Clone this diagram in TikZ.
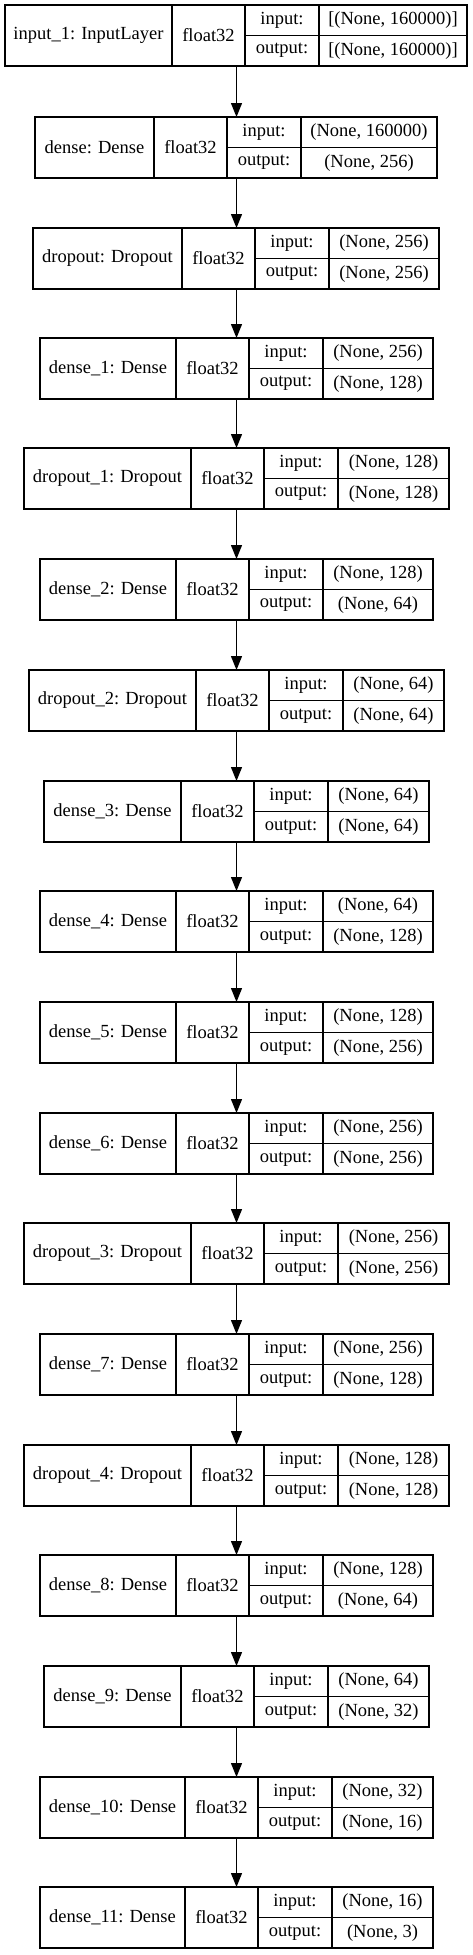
\documentclass[tikz,border=0pt]{standalone}
\usepackage{fontspec}
\setmainfont{Liberation Serif}
\usetikzlibrary{arrows.meta}

% one layer record: name, top, left, first divider, right, label, input, output
\newcommand{\layer}[8]{%
  \node[layerbox, minimum width={(#5-#3)*1pt}] (#1) at (236.5,{#2+30.5}) {};
  \node[cellbox, minimum width={(#4-#3)*1pt}, minimum height=61pt] (#1-name) at ({(#3+#4)/2},{#2+30.5}) {#6};
  \node[cellbox, minimum width=73pt, minimum height=61pt] (#1-type) at ({#4+36.5},{#2+30.5}) {float32};
  \node[cellbox, minimum width=74pt] (#1-in) at ({#4+110},{#2+15.25}) {input:};
  \node[cellbox, minimum width={(#5-#4-147)*1pt}] (#1-inv) at ({(#4+147+#5)/2},{#2+15.25}) {#7};
  \node[cellbox, minimum width=74pt] (#1-out) at ({#4+110},{#2+45.75}) {output:};
  \node[cellbox, minimum width={(#5-#4-147)*1pt}] (#1-outv) at ({(#4+147+#5)/2},{#2+45.75}) {#8};
}

\begin{document}
\begin{tikzpicture}[x=1pt, y=-1pt, ->, >={Triangle[length=14pt, width=11pt]}, line width=1.2pt,
    font=\fontsize{18.5}{22}\selectfont,
    layerbox/.style = {draw, rectangle, minimum height=61pt, inner sep=0pt, outer sep=0pt},
    cellbox/.style = {draw, rectangle, minimum height=30.5pt, inner sep=0pt, outer sep=0pt}]
    \fill[white] (0,0) rectangle (473,1955);
    \useasboundingbox (0,0) rectangle (473,1955);
    % Nodes

    \layer{1}{5}{5}{172}{467}{input\_1: InputLayer}{[(None, 160000)]}{[(None, 160000)]}
    \layer{2}{117}{35}{154}{437}{dense: Dense}{(None, 160000)}{(None, 256)}
    \layer{3}{228}{33}{182}{439}{dropout: Dropout}{(None, 256)}{(None, 256)}
    \layer{4}{338}{40}{176}{433}{dense\_1: Dense}{(None, 256)}{(None, 128)}
    \layer{5}{448}{24}{191}{449}{dropout\_1: Dropout}{(None, 128)}{(None, 128)}
    \layer{6}{559}{40}{176}{433}{dense\_2: Dense}{(None, 128)}{(None, 64)}
    \layer{7}{670}{29}{196}{444}{dropout\_2: Dropout}{(None, 64)}{(None, 64)}
    \layer{8}{781}{44}{181}{429}{dense\_3: Dense}{(None, 64)}{(None, 64)}
    \layer{9}{891}{40}{176}{433}{dense\_4: Dense}{(None, 64)}{(None, 128)}
    \layer{10}{1002}{40}{176}{433}{dense\_5: Dense}{(None, 128)}{(None, 256)}
    \layer{11}{1113}{40}{176}{433}{dense\_6: Dense}{(None, 256)}{(None, 256)}
    \layer{12}{1223}{24}{191}{449}{dropout\_3: Dropout}{(None, 256)}{(None, 256)}
    \layer{13}{1334}{40}{176}{433}{dense\_7: Dense}{(None, 256)}{(None, 128)}
    \layer{14}{1445}{24}{191}{449}{dropout\_4: Dropout}{(None, 128)}{(None, 128)}
    \layer{15}{1555}{40}{176}{433}{dense\_8: Dense}{(None, 128)}{(None, 64)}
    \layer{16}{1666}{44}{181}{429}{dense\_9: Dense}{(None, 64)}{(None, 32)}
    \layer{17}{1777}{40}{185}{433}{dense\_10: Dense}{(None, 32)}{(None, 16)}
    \layer{18}{1887}{40}{185}{433}{dense\_11: Dense}{(None, 16)}{(None, 3)}

    % Edges

    \draw (1) to (2);
    \draw (2) to (3);
    \draw (3) to (4);
    \draw (4) to (5);
    \draw (5) to (6);
    \draw (6) to (7);
    \draw (7) to (8);
    \draw (8) to (9);
    \draw (9) to (10);
    \draw (10) to (11);
    \draw (11) to (12);
    \draw (12) to (13);
    \draw (13) to (14);
    \draw (14) to (15);
    \draw (15) to (16);
    \draw (16) to (17);
    \draw (17) to (18);

\end{tikzpicture}
\end{document}
